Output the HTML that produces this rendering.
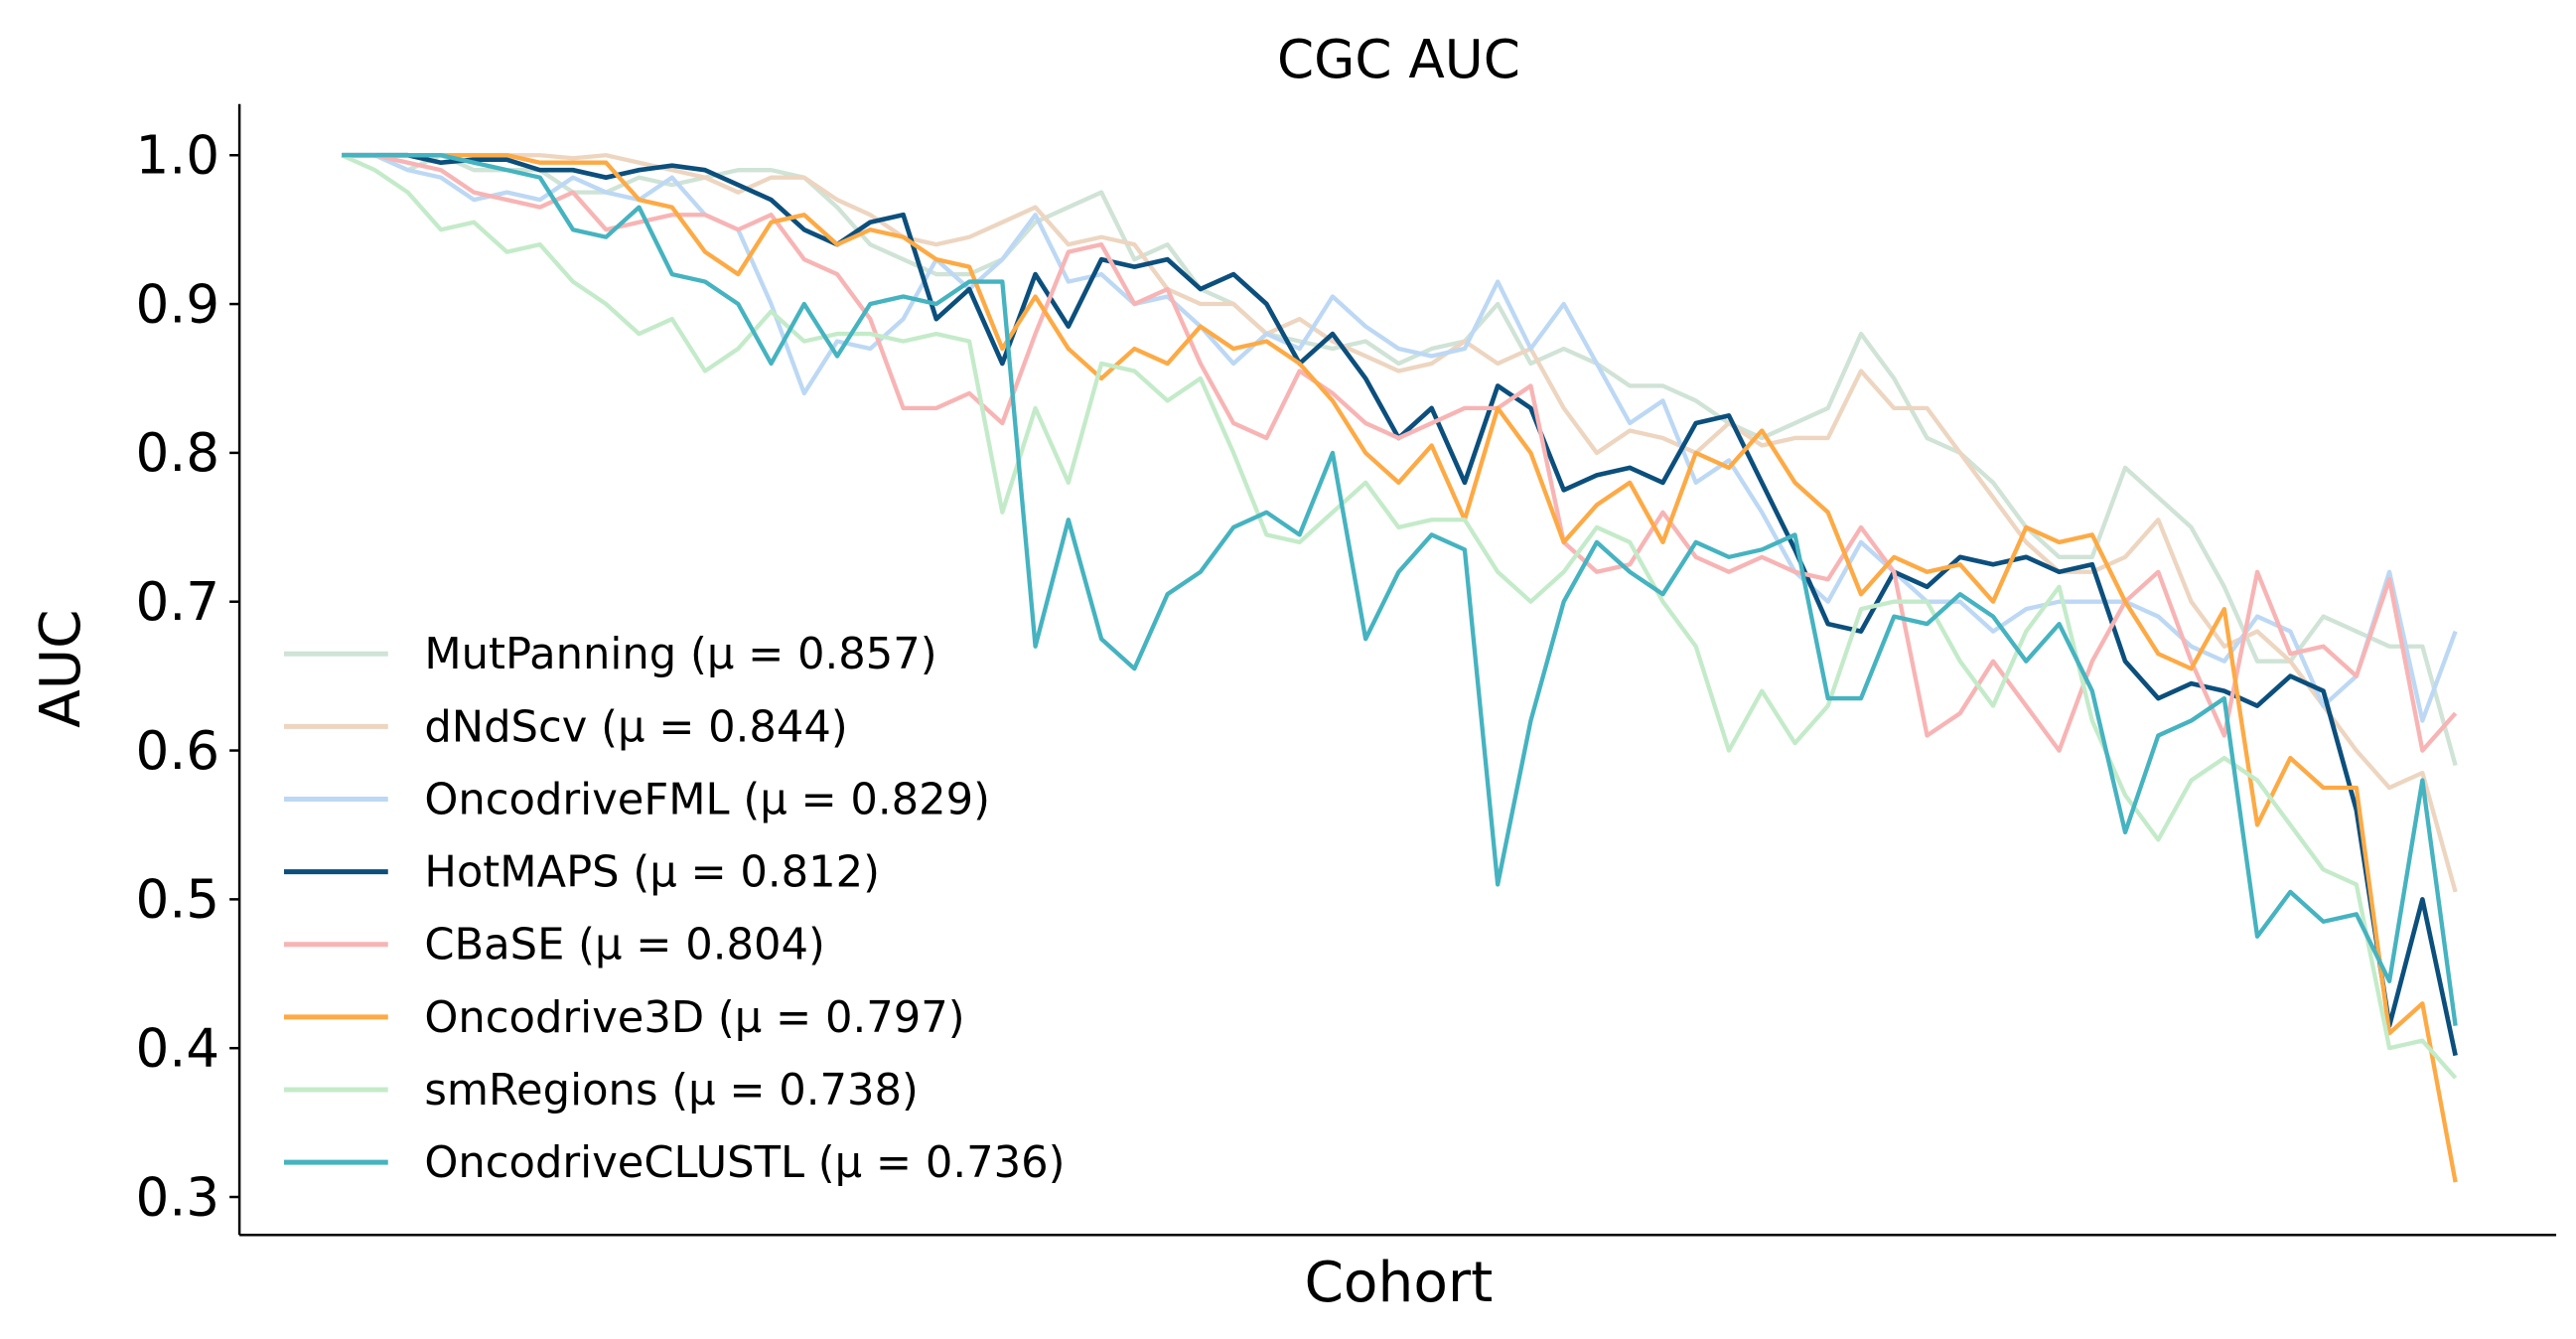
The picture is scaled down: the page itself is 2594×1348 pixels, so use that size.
<!DOCTYPE html>
<html><head><meta charset="utf-8"><style>
html,body{margin:0;padding:0;background:#fff;}
svg{display:block;font-family:"DejaVu Sans","Liberation Sans",sans-serif;}
</style></head><body>
<svg id="chart" width="2594" height="1348" viewBox="0 0 1560 811" preserveAspectRatio="none" xmlns="http://www.w3.org/2000/svg">
<rect width="1560" height="811" fill="#fff"/>
<text x="847" y="47" font-size="32" text-anchor="middle">CGC AUC</text>
<text transform="translate(48,405) rotate(-90)" font-size="34" text-anchor="middle">AUC</text>
<text x="847" y="788" font-size="34" text-anchor="middle">Cohort</text>
<g id="ticks"></g>
<g id="series"></g>
<line x1="145" y1="63" x2="145" y2="748" stroke="#000" stroke-width="1.5"/>
<line x1="145" y1="748" x2="1548" y2="748" stroke="#000" stroke-width="1.5"/>
<g id="legend"></g>
</svg>
<script>
const yTicks = [0.3,0.4,0.5,0.6,0.7,0.8,0.9,1.0];
const tickLabels = ["0.3","0.4","0.5","0.6","0.7","0.8","0.9","1.0"];
const seriesNames = ["MutPanning (μ = 0.857)","dNdScv (μ = 0.844)","OncodriveFML (μ = 0.829)","HotMAPS (μ = 0.812)","CBaSE (μ = 0.804)","Oncodrive3D (μ = 0.797)","smRegions (μ = 0.738)","OncodriveCLUSTL (μ = 0.736)"];
const seriesColors = ["#cfe3d6","#edd5c0","#bcd8f4","#0b4f7d","#f8b4b4","#fdaa45","#c4ebc9","#45b3c0"];
const mutPanning = [1,1,0.99,1,0.99,0.99,0.99,0.975,0.975,0.985,0.98,0.985,0.99,0.99,0.985,0.965,0.94,0.93,0.92,0.92,0.93,0.955,0.965,0.975,0.93,0.94,0.91,0.9,0.88,0.875,0.87,0.875,0.86,0.87,0.875,0.9,0.86,0.87,0.86,0.845,0.845,0.835,0.82,0.81,0.82,0.83,0.88,0.85,0.81,0.8,0.78,0.75,0.73,0.73,0.79,0.77,0.75,0.71,0.66,0.66,0.69,0.68,0.67,0.67,0.59];
const dNdScv = [1,1,1,1,1,1,1,0.998,1,0.995,0.99,0.985,0.975,0.985,0.985,0.97,0.96,0.945,0.94,0.945,0.955,0.965,0.94,0.945,0.94,0.91,0.9,0.9,0.88,0.89,0.875,0.865,0.855,0.86,0.875,0.86,0.87,0.83,0.8,0.815,0.81,0.8,0.82,0.805,0.81,0.81,0.855,0.83,0.83,0.8,0.77,0.74,0.72,0.72,0.73,0.755,0.7,0.67,0.68,0.66,0.63,0.6,0.575,0.585,0.505];
const oncodriveFML = [1,1,0.99,0.985,0.97,0.975,0.97,0.985,0.975,0.97,0.985,0.96,0.95,0.9,0.84,0.875,0.87,0.89,0.93,0.91,0.93,0.96,0.915,0.92,0.9,0.905,0.885,0.86,0.88,0.87,0.905,0.885,0.87,0.865,0.87,0.915,0.87,0.9,0.86,0.82,0.835,0.78,0.795,0.76,0.72,0.7,0.74,0.72,0.7,0.7,0.68,0.695,0.7,0.7,0.7,0.69,0.67,0.66,0.69,0.68,0.63,0.65,0.72,0.62,0.68];
const hotMAPS = [1,1,1,0.995,0.997,0.997,0.99,0.99,0.985,0.99,0.993,0.99,0.98,0.97,0.95,0.94,0.955,0.96,0.89,0.91,0.86,0.92,0.885,0.93,0.925,0.93,0.91,0.92,0.9,0.86,0.88,0.85,0.81,0.83,0.78,0.845,0.83,0.775,0.785,0.79,0.78,0.82,0.825,0.78,0.735,0.685,0.68,0.72,0.71,0.73,0.725,0.73,0.72,0.725,0.66,0.635,0.645,0.64,0.63,0.65,0.64,0.56,0.415,0.5,0.395];
const cBaSE = [1,1,0.995,0.99,0.975,0.97,0.965,0.975,0.95,0.955,0.96,0.96,0.95,0.96,0.93,0.92,0.89,0.83,0.83,0.84,0.82,0.88,0.935,0.94,0.9,0.91,0.86,0.82,0.81,0.855,0.84,0.82,0.81,0.82,0.83,0.83,0.845,0.74,0.72,0.725,0.76,0.73,0.72,0.73,0.72,0.715,0.75,0.72,0.61,0.625,0.66,0.63,0.6,0.66,0.7,0.72,0.66,0.61,0.72,0.665,0.67,0.65,0.715,0.6,0.625];
const oncodrive3D = [1,1,1,1,1,1,0.995,0.995,0.995,0.97,0.965,0.935,0.92,0.955,0.96,0.94,0.95,0.945,0.93,0.925,0.87,0.905,0.87,0.85,0.87,0.86,0.885,0.87,0.875,0.86,0.835,0.8,0.78,0.805,0.755,0.83,0.8,0.74,0.765,0.78,0.74,0.8,0.79,0.815,0.78,0.76,0.705,0.73,0.72,0.725,0.7,0.75,0.74,0.745,0.7,0.665,0.655,0.695,0.55,0.595,0.575,0.575,0.41,0.43,0.31];
const smRegions = [1,0.99,0.975,0.95,0.955,0.935,0.94,0.915,0.9,0.88,0.89,0.855,0.87,0.895,0.875,0.88,0.88,0.875,0.88,0.875,0.76,0.83,0.78,0.86,0.855,0.835,0.85,0.8,0.745,0.74,0.76,0.78,0.75,0.755,0.755,0.72,0.7,0.72,0.75,0.74,0.7,0.67,0.6,0.64,0.605,0.63,0.695,0.7,0.7,0.66,0.63,0.68,0.71,0.62,0.57,0.54,0.58,0.595,0.58,0.55,0.52,0.51,0.4,0.405,0.38];
const oncodriveCLUSTL = [1,1,1,1,0.995,0.99,0.985,0.95,0.945,0.965,0.92,0.915,0.9,0.86,0.9,0.865,0.9,0.905,0.9,0.915,0.915,0.67,0.755,0.675,0.655,0.705,0.72,0.75,0.76,0.745,0.8,0.675,0.72,0.745,0.735,0.51,0.62,0.7,0.74,0.72,0.705,0.74,0.73,0.735,0.745,0.635,0.635,0.69,0.685,0.705,0.69,0.66,0.685,0.64,0.545,0.61,0.62,0.635,0.475,0.505,0.485,0.49,0.445,0.58,0.415];
const allSeries = [mutPanning,dNdScv,oncodriveFML,hotMAPS,cBaSE,oncodrive3D,smRegions,oncodriveCLUSTL];

const NS="http://www.w3.org/2000/svg";
const yScale = v => 94 + (1.0 - v) * 901.4;
const xScale = (i,n) => 207 + i * (1280 / (n - 1));

const tg=document.getElementById('ticks');
yTicks.forEach((t,i)=>{
  const l=document.createElementNS(NS,'line');
  
  
  l.setAttribute('x1',139);l.setAttribute('x2',145);
  l.setAttribute('y1',yScale(t));l.setAttribute('y2',yScale(t));
  l.setAttribute('stroke','#000');l.setAttribute('stroke-width',1.5);
  tg.appendChild(l);
  const tx=document.createElementNS(NS,'text');
  
  
  tx.setAttribute('x',133);tx.setAttribute('y',yScale(t)+11);
  tx.setAttribute('text-anchor','end');tx.setAttribute('font-size',32);
  tx.textContent=tickLabels[i];
  tg.appendChild(tx);
});

const sg=document.getElementById('series');
allSeries.forEach((arr,si)=>{
  const p=document.createElementNS(NS,'polyline');
  
  
  p.setAttribute('points',arr.map((v,i)=>xScale(i,arr.length).toFixed(1)+','+yScale(v).toFixed(1)).join(' '));
  p.setAttribute('fill','none');p.setAttribute('stroke',seriesColors[si]);
  p.setAttribute('stroke-width',si===3?2.8:2.6);p.setAttribute('stroke-linejoin','round');
  sg.appendChild(p);
});

const lg=document.getElementById('legend');
seriesNames.forEach((nm,i)=>{
  const y=396+i*44;
  const l=document.createElementNS(NS,'line');
  
  
  l.setAttribute('x1',172);l.setAttribute('x2',235);l.setAttribute('y1',y);l.setAttribute('y2',y);
  l.setAttribute('stroke',seriesColors[i]);l.setAttribute('stroke-width',3);
  lg.appendChild(l);
  const t=document.createElementNS(NS,'text');
  
  
  t.setAttribute('x',257);t.setAttribute('y',y+9);t.setAttribute('font-size',26);
  t.textContent=nm;
  lg.appendChild(t);
});
</script>
</body></html>
